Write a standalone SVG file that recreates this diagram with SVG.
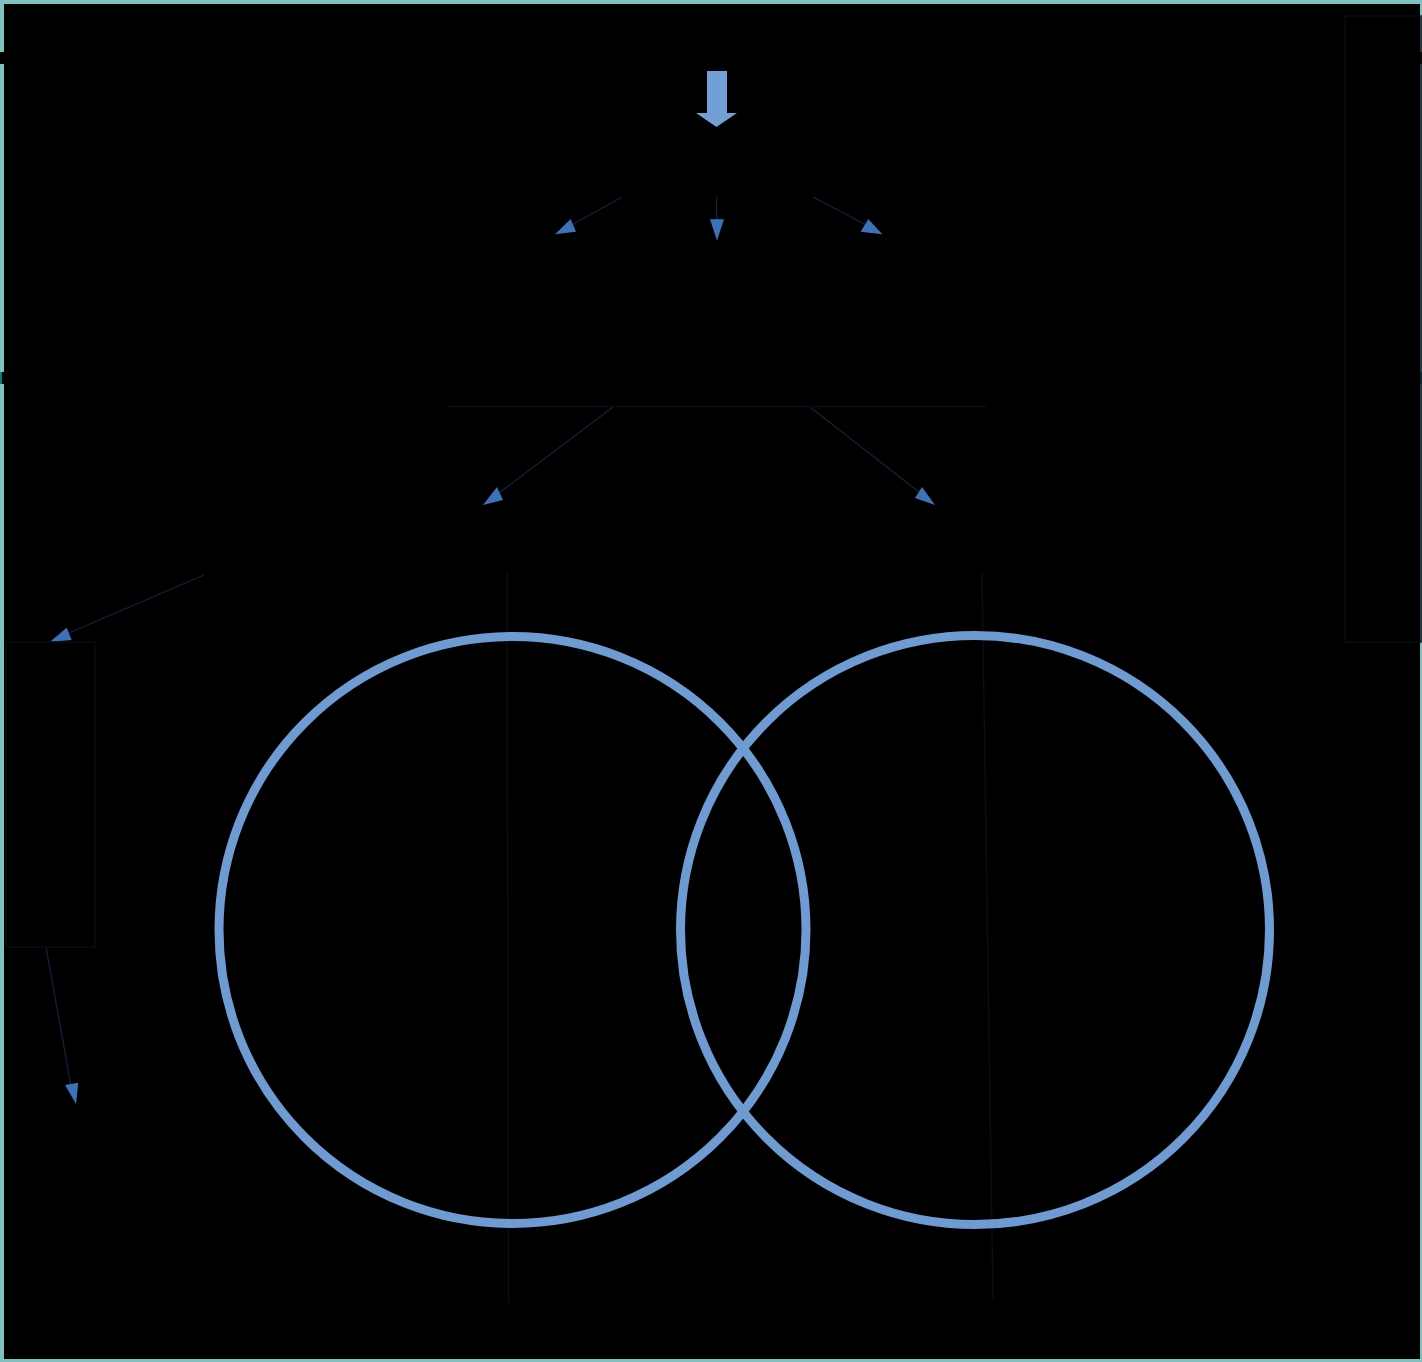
<svg xmlns="http://www.w3.org/2000/svg" width="1422" height="1362" viewBox="0 0 1422 1362">
<style>
.faint{fill:none;stroke:#0b0c14;stroke-width:1.5}
.conn{fill:none;stroke:#10223c;stroke-width:1.3}
.head{fill:#3b72b8}
.ring{fill:none;stroke:#6d9bd2;stroke-width:9}
</style>
<rect x="0" y="0" width="1422" height="1362" fill="#7fc0c0"/>
<rect x="4" y="4" width="1416" height="1355" fill="#000"/>
<rect x="0" y="52" width="4" height="12" fill="#000"/>
<rect x="1419" y="52" width="3" height="12" fill="#000"/>
<rect x="0" y="372" width="2" height="12" fill="#008080"/>
<rect x="2" y="372" width="2" height="12" fill="#000"/>
<rect x="1420" y="372" width="2" height="12" fill="#008080"/>

<g id="connectors">
<line class="conn" x1="622" y1="197" x2="568" y2="227"/>
<polygon class="head" points="555,234.3 576,231.7 570.7,219"/>
<line class="conn" x1="716.5" y1="197" x2="716.8" y2="222"/>
<polygon class="head" points="710,219.3 724,219.3 717,240.7"/>
<line class="conn" x1="813" y1="197" x2="870" y2="227"/>
<polygon class="head" points="860.7,231.7 868.3,219 882.3,234.3"/>
<line class="conn" x1="613" y1="407" x2="495" y2="496"/>
<polygon class="head" points="483,505 503,500 497,487"/>
<line class="conn" x1="810" y1="407" x2="924" y2="496"/>
<polygon class="head" points="915,498 922,487 935,505"/>
<line class="conn" x1="204" y1="575" x2="62" y2="636"/>
<polygon class="head" points="50,641.7 66.7,627.7 71.7,640"/>
<line class="conn" x1="46" y1="947" x2="71" y2="1086"/>
<polygon class="head" points="65,1085 78.3,1082.7 76,1104"/>
<line class="faint" x1="507" y1="572" x2="508.5" y2="1303"/>
<line class="faint" x1="982" y1="572" x2="993" y2="1300"/>
</g>

<g id="node-top-arrow">
<polygon points="707,71 727,71 727,113 737,113 716.5,127 696,113 707,113" fill="#70a0d6"/>
</g>
<g id="node-right-panel"><rect class="faint" x="1345" y="16" width="76" height="626"/></g>
<g id="node-middle-bar"><line class="faint" x1="448" y1="406.5" x2="986" y2="406.5"/></g>
<g id="node-left-box"><rect class="faint" x="6" y="642" width="89" height="305"/></g>
<g id="node-left-circle"><circle class="ring" cx="512.5" cy="930" r="293.5"/></g>
<g id="node-right-circle"><circle class="ring" cx="975" cy="930" r="294.5"/></g>
</svg>
